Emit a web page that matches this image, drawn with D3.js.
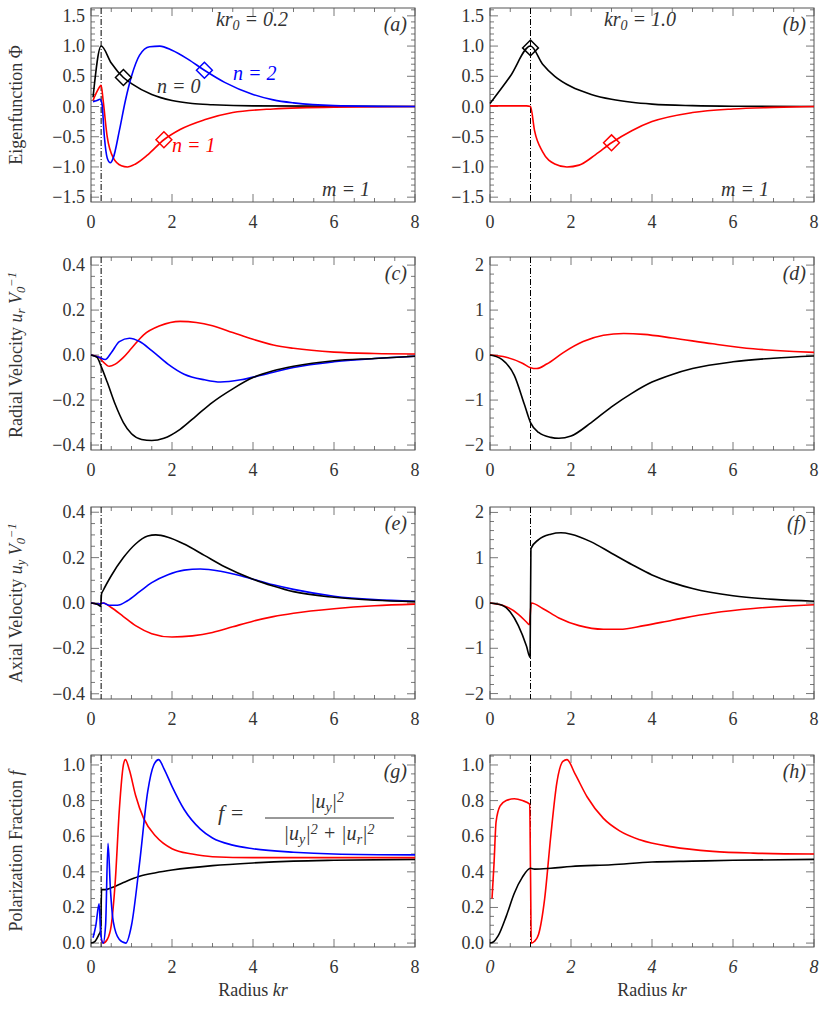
<!DOCTYPE html>
<html><head><meta charset="utf-8">
<script src="https://cdn.jsdelivr.net/npm/d3@7"></script>
<style>
body{margin:0;background:#fff}
text{font-family:"Liberation Serif","DejaVu Serif",serif;fill:#333}
</style></head><body>
<script>
const w = 830, h = 1014;

// ---- data: [kr, value] ----
const aBlack = [[0.05,0.15],[0.25,1.0],[0.5,0.72],[0.8,0.48],[1.0,0.38],[1.5,0.2],[2,0.1],[2.5,0.05],[3,0.03],[4,0.01],[8,0]];
const aRed = [[0.05,0.1],[0.15,0.25],[0.25,0.35],[0.3,0.1],[0.4,-0.5],[0.55,-0.85],[0.75,-0.98],[0.9,-1.0],[1.1,-0.95],[1.4,-0.8],[1.8,-0.55],[2.2,-0.38],[2.8,-0.22],[3.5,-0.1],[4.5,-0.04],[6,-0.01],[8,0]];
const aBlue = [[0.05,0.08],[0.15,0.1],[0.22,0.12],[0.27,0.05],[0.33,-0.5],[0.4,-0.85],[0.48,-0.93],[0.55,-0.85],[0.7,-0.4],[0.85,0.1],[1.0,0.5],[1.2,0.85],[1.45,0.99],[1.7,1.0],[2.0,0.93],[2.4,0.78],[2.8,0.6],[3.3,0.4],[4,0.2],[4.5,0.11],[5,0.06],[6,0.015],[8,0]];
const aMarks = [[0.8,0.48,"#000"],[2.8,0.6,"#00f"],[1.8,-0.55,"#f00"]];

const bBlack = [[0,0.05],[0.5,0.5],[1,1.0],[1.3,0.7],[1.6,0.5],[2,0.33],[2.5,0.2],[3,0.12],[3.5,0.07],[4,0.04],[5,0.015],[6,0.005],[8,0]];
const bRed = [[0,0.01],[0.9,0.01],[1.0,0.0],[1.1,-0.4],[1.3,-0.75],[1.6,-0.95],[1.9,-1.0],[2.2,-0.97],[2.6,-0.8],[3.0,-0.6],[3.5,-0.4],[4,-0.25],[5,-0.1],[6,-0.04],[7,-0.015],[8,0]];
const bMarks = [[1.0,0.97,"#000"],[3.0,-0.6,"#f00"]];

const cBlack = [[0,0],[0.15,-0.01],[0.25,-0.05],[0.4,-0.12],[0.6,-0.22],[0.8,-0.3],[1.0,-0.35],[1.25,-0.375],[1.5,-0.38],[1.8,-0.37],[2.2,-0.33],[2.6,-0.27],[3,-0.21],[3.5,-0.15],[4,-0.1],[4.5,-0.07],[5,-0.05],[6,-0.025],[7,-0.015],[8,-0.005]];
const cRed = [[0,0],[0.2,-0.01],[0.3,-0.03],[0.45,-0.05],[0.6,-0.04],[0.8,-0.01],[1.0,0.03],[1.3,0.09],[1.7,0.13],[2.2,0.15],[2.6,0.145],[3,0.13],[3.5,0.1],[4,0.07],[4.5,0.045],[5,0.03],[6,0.013],[7,0.007],[8,0.005]];
const cBlue = [[0,0],[0.2,-0.01],[0.35,-0.02],[0.5,0.01],[0.7,0.06],[0.95,0.075],[1.2,0.06],[1.5,0.02],[1.9,-0.04],[2.3,-0.085],[2.8,-0.11],[3.2,-0.12],[3.7,-0.11],[4.2,-0.09],[5,-0.055],[6,-0.03],[7,-0.015],[8,-0.005]];

const dBlack = [[0,0],[0.3,-0.1],[0.6,-0.45],[0.85,-1.1],[1.0,-1.5],[1.2,-1.72],[1.5,-1.83],[1.7,-1.85],[2.0,-1.8],[2.5,-1.5],[3,-1.15],[3.5,-0.85],[4,-0.6],[4.5,-0.43],[5,-0.3],[6,-0.15],[7,-0.07],[8,-0.02]];
const dRed = [[0,0],[0.4,-0.05],[0.8,-0.18],[1.0,-0.28],[1.15,-0.3],[1.4,-0.2],[1.8,0.05],[2.3,0.3],[2.8,0.44],[3.3,0.48],[3.8,0.46],[4.5,0.38],[5.5,0.25],[6.5,0.14],[7.5,0.08],[8,0.06]];

const eBlack = [[0,0],[0.15,-0.005],[0.24,-0.015],[0.26,0.04],[0.3,0.055],[0.5,0.12],[0.8,0.2],[1.1,0.26],[1.4,0.295],[1.6,0.3],[1.9,0.29],[2.3,0.26],[2.8,0.21],[3.3,0.16],[4,0.105],[4.5,0.075],[5,0.05],[6,0.025],[7,0.012],[8,0.006]];
const eBlue = [[0,0],[0.2,-0.005],[0.3,0.0],[0.45,-0.01],[0.65,-0.01],[0.9,0.01],[1.2,0.05],[1.5,0.09],[1.9,0.125],[2.3,0.145],[2.7,0.15],[3.2,0.14],[3.8,0.115],[4.5,0.08],[5,0.06],[6,0.03],[7,0.015],[8,0.008]];
const eRed = [[0,0],[0.2,-0.005],[0.3,0.0],[0.5,-0.02],[0.8,-0.06],[1.1,-0.1],[1.5,-0.135],[2.0,-0.15],[2.5,-0.145],[3,-0.13],[3.5,-0.105],[4,-0.08],[4.5,-0.06],[5,-0.045],[6,-0.025],[7,-0.012],[8,-0.005]];

const fBlack = [[0,0],[0.3,-0.05],[0.5,-0.2],[0.7,-0.5],[0.9,-0.95],[0.99,-1.2],[1.01,1.2],[1.2,1.4],[1.5,1.52],[1.75,1.55],[2.0,1.52],[2.5,1.35],[3,1.1],[3.5,0.85],[4,0.62],[4.5,0.45],[5,0.32],[6,0.16],[7,0.08],[8,0.04]];
const fRed = [[0,0],[0.4,-0.08],[0.7,-0.25],[0.9,-0.42],[0.97,-0.48],[1.02,0.0],[1.3,-0.12],[1.7,-0.33],[2.2,-0.5],[2.8,-0.58],[3.2,-0.58],[3.8,-0.5],[4.5,-0.38],[5.5,-0.22],[6.5,-0.12],[7.5,-0.06],[8,-0.04]];

const gBlack = [[0,0],[0.1,0.01],[0.2,0.05],[0.24,0.07],[0.26,0.3],[0.35,0.3],[0.5,0.31],[0.8,0.34],[1.2,0.375],[1.6,0.395],[2,0.41],[3,0.435],[4,0.45],[5,0.46],[6,0.465],[8,0.47]];
const gBlue = [[0.05,0.03],[0.12,0.1],[0.2,0.22],[0.24,0.05],[0.3,0.0],[0.36,0.1],[0.42,0.56],[0.48,0.3],[0.55,0.12],[0.7,0.02],[0.86,0.0],[1.0,0.1],[1.2,0.45],[1.4,0.85],[1.55,1.0],[1.67,1.03],[1.8,0.98],[2,0.88],[2.3,0.75],[2.7,0.64],[3,0.59],[3.5,0.55],[4,0.53],[5,0.51],[6,0.5],[8,0.495]];
const gRed = [[0.25,0.02],[0.3,0.0],[0.4,0.02],[0.5,0.1],[0.6,0.35],[0.7,0.75],[0.8,1.0],[0.85,1.03],[0.95,0.97],[1.1,0.83],[1.3,0.7],[1.6,0.6],[2,0.53],[2.5,0.5],[3,0.485],[4,0.48],[8,0.48]];

const hRed = [[0.05,0.25],[0.1,0.45],[0.15,0.68],[0.25,0.77],[0.4,0.8],[0.6,0.81],[0.8,0.8],[0.98,0.78],[1.0,0.4],[1.02,0.0],[1.1,0.01],[1.2,0.05],[1.35,0.25],[1.5,0.6],[1.65,0.9],[1.8,1.02],[1.9,1.03],[2.1,0.95],[2.4,0.82],[2.8,0.7],[3.2,0.63],[3.7,0.58],[4.5,0.54],[5.5,0.515],[6.5,0.505],[8,0.5]];
const hBlack = [[0,0],[0.1,0.01],[0.2,0.04],[0.4,0.15],[0.6,0.28],[0.8,0.37],[1.0,0.42],[1.1,0.415],[1.5,0.42],[2,0.43],[3,0.44],[4,0.455],[5,0.46],[6,0.465],[8,0.47]];

const xTicks = [0, 2, 4, 6, 8];
const yTicksPhi = [-1.5, -1.0, -0.5, 0.0, 0.5, 1.0, 1.5];
const yTicksVel = [-0.4, -0.2, 0.0, 0.2, 0.4];
const yTicksVelR = [-2, -1, 0, 1, 2];
const yTicksF = [0.0, 0.2, 0.4, 0.6, 0.8, 1.0];

const panels = [
  {id:"a", col:0, top:8, bot:202, dom:[-1.58,1.63], ticks:yTicksPhi, minor:0.1, fmt:".1f", r0:0.25,
   lines:[[aBlack,"#000"],[aRed,"#f00"],[aBlue,"#00f"]], marks:aMarks},
  {id:"b", col:1, top:8, bot:202, dom:[-1.58,1.63], ticks:yTicksPhi, minor:0.1, fmt:".1f", r0:1.0,
   lines:[[bBlack,"#000"],[bRed,"#f00"]], marks:bMarks},
  {id:"c", col:0, top:257, bot:450, dom:[-0.422,0.436], ticks:yTicksVel, minor:0.05, fmt:".1f", r0:0.25,
   lines:[[cRed,"#f00"],[cBlue,"#00f"],[cBlack,"#000"]]},
  {id:"d", col:1, top:257, bot:450, dom:[-2.11,2.18], ticks:yTicksVelR, minor:0.2, fmt:"d", r0:1.0,
   lines:[[dRed,"#f00"],[dBlack,"#000"]]},
  {id:"e", col:0, top:507, bot:699, dom:[-0.423,0.423], ticks:yTicksVel, minor:0.05, fmt:".1f", r0:0.25,
   lines:[[eRed,"#f00"],[eBlue,"#00f"],[eBlack,"#000"]]},
  {id:"f", col:1, top:507, bot:699, dom:[-2.12,2.12], ticks:yTicksVelR, minor:0.2, fmt:"d", r0:1.0,
   lines:[[fRed,"#f00"],[fBlack,"#000"]]},
  {id:"g", col:0, top:755, bot:947, dom:[-0.022,1.056], ticks:yTicksF, minor:0.05, fmt:".1f", r0:0.25,
   lines:[[gBlack,"#000"],[gRed,"#f00"],[gBlue,"#00f"]]},
  {id:"h", col:1, top:755, bot:947, dom:[-0.022,1.056], ticks:yTicksF, minor:0.05, fmt:".1f", r0:1.0,
   lines:[[hRed,"#f00"],[hBlack,"#000"]], italicX:true}
];
const colX = [[91,415],[490,814]];

const svg = d3.select("body").append("svg").attr("width", w).attr("height", h);

const minusFmt = f => v => d3.format(f)(v).replace("-", "\u2212");

panels.forEach(p => {
  const [x0, x1] = colX[p.col];
  const x = d3.scaleLinear().domain([0, 8]).range([x0, x1]);
  const y = d3.scaleLinear().domain(p.dom).range([p.bot, p.top]);
  const g = svg.append("g");

  // minor / major ticks on all four sides
  const tk = g.append("g").attr("stroke", "#555").attr("stroke-width", 0.8);
  d3.range(0, 8.001, 0.5).forEach(v => {
    const L = (v % 2 === 0) ? 8 : 4;
    tk.append("line").attr("x1", x(v)).attr("x2", x(v)).attr("y1", p.bot).attr("y2", p.bot - L);
    tk.append("line").attr("x1", x(v)).attr("x2", x(v)).attr("y1", p.top).attr("y2", p.top + L);
  });
  const lo = Math.ceil(p.dom[0] / p.minor - 1e-6), hi = Math.floor(p.dom[1] / p.minor + 1e-6);
  d3.range(lo, hi + 1).forEach(i => {
    const v = i * p.minor;
    const major = p.ticks.some(t => Math.abs(t - v) < 1e-6);
    const L = major ? 8 : 4;
    tk.append("line").attr("x1", x0).attr("x2", x0 + L).attr("y1", y(v)).attr("y2", y(v));
    tk.append("line").attr("x1", x1).attr("x2", x1 - L).attr("y1", y(v)).attr("y2", y(v));
  });
  g.append("rect").attr("x", x0).attr("y", p.top).attr("width", x1 - x0).attr("height", p.bot - p.top)
    .attr("fill", "none").attr("stroke", "#555").attr("stroke-width", 1);

  // tick labels
  const fy = minusFmt(p.fmt);
  p.ticks.forEach(t => g.append("text").attr("x", x0 - 6).attr("y", y(t) + 6)
    .attr("text-anchor", "end").attr("font-size", 18).text(fy(t)));
  xTicks.forEach(t => g.append("text").attr("x", x(t)).attr("y", p.bot + 26)
    .attr("text-anchor", "middle").attr("font-size", 18)
    .attr("font-style", p.italicX ? "italic" : null).text(t));

  // r0 dash-dot line
  g.append("line").attr("x1", x(p.r0)).attr("x2", x(p.r0)).attr("y1", p.top).attr("y2", p.bot)
    .attr("stroke", "#000").attr("stroke-width", 1).attr("stroke-dasharray", "6,2,1,2");

  const line = d3.line().x(d => x(d[0])).y(d => y(d[1])).curve(d3.curveMonotoneX);
  g.append("g").selectAll("path").data(p.lines).join("path")
    .attr("d", d => line(d[0])).attr("fill", "none").attr("stroke", d => d[1]).attr("stroke-width", 1.6);

  if (p.marks) {
    g.selectAll(".mk").data(p.marks).join("path")
      .attr("d", d3.symbol(d3.symbolDiamond2, 160))
      .attr("transform", d => `translate(${x(d[0])},${y(d[1])})`)
      .attr("fill", "none").attr("stroke", d => d[2]).attr("stroke-width", 1.5);
  }

  g.append("text").attr("x", x1 - 8).attr("y", p.top + 23).attr("text-anchor", "end")
    .attr("font-size", 20).attr("font-style", "italic").text("(" + p.id + ")");
  p.x = x; p.y = y;
});

// annotations
function label(x, y, parts, opts = {}) {
  const t = svg.append("text").attr("x", x).attr("y", y).attr("font-size", opts.size || 20)
    .attr("font-style", "italic").attr("text-anchor", opts.anchor || "start");
  if (opts.fill) t.style("fill", opts.fill);
  if (opts.rotate) t.attr("transform", `rotate(-90,${x},${y})`);
  parts.forEach(pt => {
    const s = t.append("tspan").text(pt[0]);
    if (pt[1] === "sub") s.attr("baseline-shift", "-25%").attr("font-size", "70%");
    if (pt[1] === "sup") s.attr("baseline-shift", "45%").attr("font-size", "70%");
    if (pt[1] === "up") s.attr("font-style", "normal");
  });
  return t;
}
label(252, 26, [["kr"], ["0", "sub"], [" = 0.2"]], {anchor: "middle"});
label(640, 26, [["kr"], ["0", "sub"], [" = 1.0"]], {anchor: "middle"});
label(346, 196, [["m = 1"]], {anchor: "middle"});
label(745, 196, [["m = 1"]], {anchor: "middle"});
label(157, 93, [["n = 0"]]);
label(233, 80, [["n = 2"]], {fill: "#00f"});
label(172, 152, [["n = 1"]], {fill: "#f00"});

// y-axis titles
label(22, 105, [["Eigenfunction ", "up"], ["\u03a6", "up"]], {rotate: true, anchor: "middle", size: 18});
label(22, 355, [["Radial Velocity ", "up"], ["u"], ["r", "sub"], [" V"], ["0", "sub"], ["\u22121", "sup"]], {rotate: true, anchor: "middle", size: 18});
label(22, 603, [["Axial Velocity ", "up"], ["u"], ["y", "sub"], [" V"], ["0", "sub"], ["\u22121", "sup"]], {rotate: true, anchor: "middle", size: 18});
label(22, 851, [["Polarization Fraction ", "up"], ["f"]], {rotate: true, anchor: "middle", size: 18});

// x-axis titles
label(253, 996, [["Radius ", "up"], ["kr"]], {anchor: "middle", size: 18});
label(652, 996, [["Radius ", "up"], ["kr"]], {anchor: "middle", size: 18});

// formula in (g)
label(218, 820, [["f = "]], {size: 22});
label(327, 808, [["|u"], ["y", "sub"], ["|"], ["2", "sup"]], {anchor: "middle", size: 20});
svg.append("line").attr("x1", 265).attr("x2", 394).attr("y1", 818).attr("y2", 818).attr("stroke", "#333").attr("stroke-width", 1);
label(329, 840, [["|u"], ["y", "sub"], ["|"], ["2", "sup"], [" + |u"], ["r", "sub"], ["|"], ["2", "sup"]], {anchor: "middle", size: 20});
</script>
</body></html>
